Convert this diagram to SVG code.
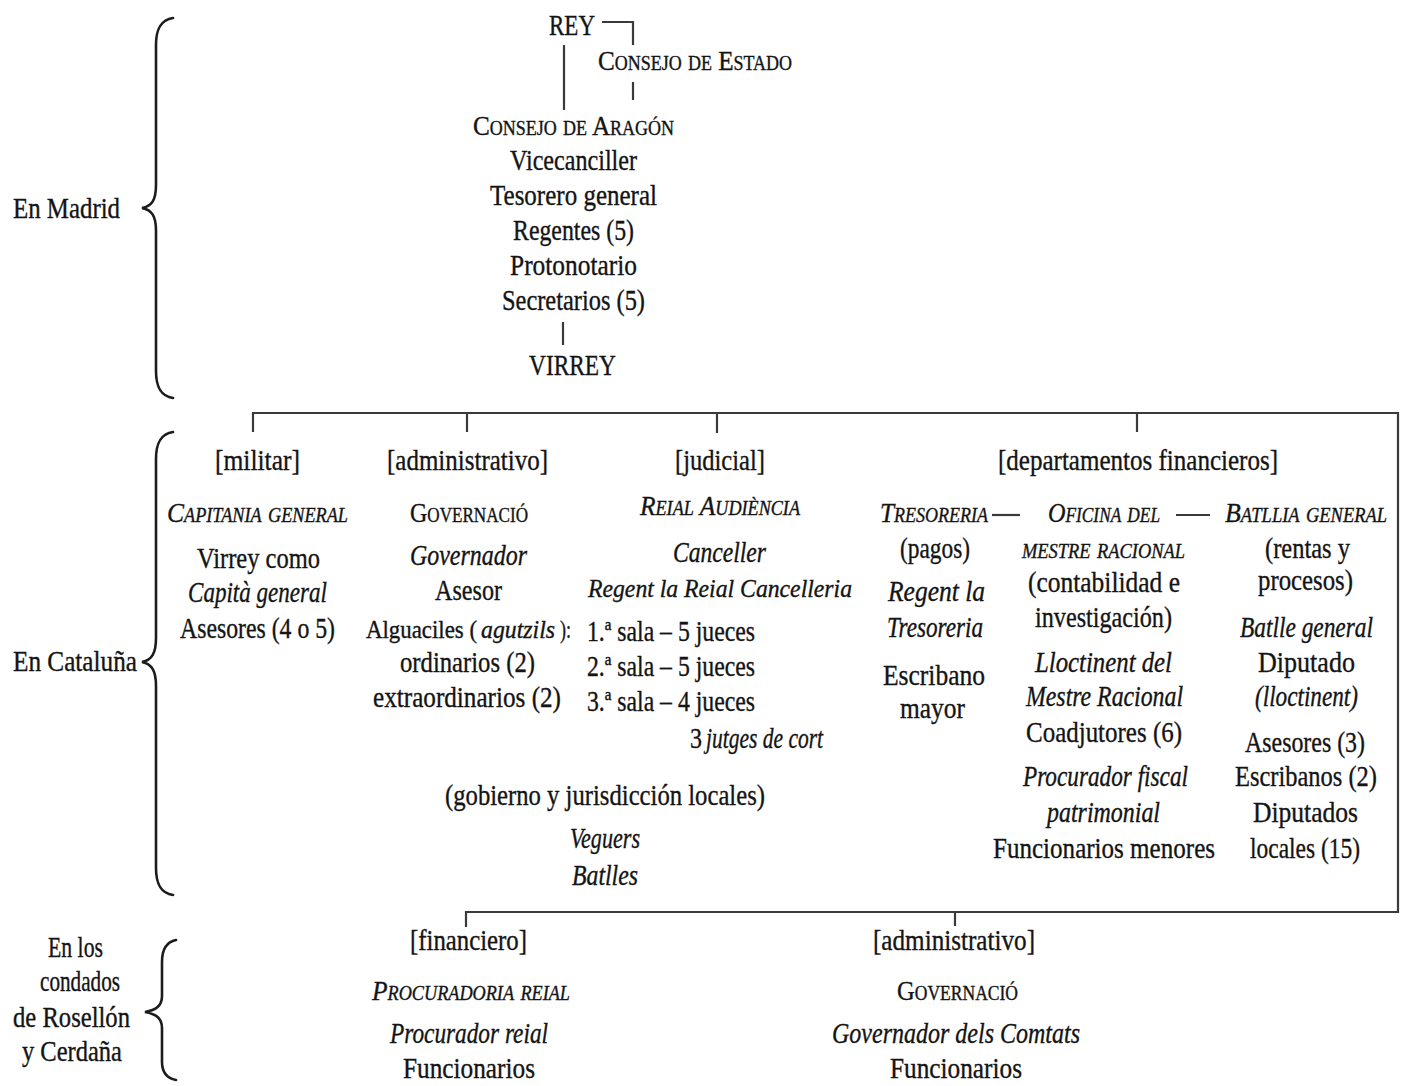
<svg xmlns="http://www.w3.org/2000/svg" width="1406" height="1086" viewBox="0 0 1406 1086">
<style>
.t{font-family:"Liberation Serif","Times New Roman",serif;font-size:29px;fill:#141414;stroke:#141414;stroke-width:0.35}
.i{font-style:italic}
.sc{font-variant:small-caps;font-size:28px}
.n{font-size:26px}
.m{font-size:25px}
.ln{stroke:#3a3a3a;stroke-width:2.2;fill:none}
.br{stroke:#1c1c1c;stroke-width:2.6;fill:none;stroke-linecap:round}
</style>
<rect width="1406" height="1086" fill="#ffffff"/>

<g id="connectors">
<polyline class="ln" points="602,22 633,22 633,45"/>
<line class="ln" x1="633" y1="82" x2="633" y2="100"/>
<line class="ln" x1="564" y1="45" x2="564" y2="110"/>
<line class="ln" x1="563" y1="322" x2="563" y2="345"/>
<path class="ln" d="M253,432 L253,413 L1398,413 L1398,912 L466,912 L466,927"/>
<line class="ln" x1="467" y1="413" x2="467" y2="432"/>
<line class="ln" x1="717" y1="413" x2="717" y2="433"/>
<line class="ln" x1="1137" y1="413" x2="1137" y2="432"/>
<line class="ln" x1="955" y1="912" x2="955" y2="926"/>
<line class="ln" x1="992" y1="515" x2="1020" y2="515"/>
<line class="ln" x1="1176" y1="515" x2="1210" y2="515"/>
</g>

<g id="braces">
<path class="br" d="M173,18 C160,20 156,30 156,45 L156,185 C156,200 152,206 142,208 C152,210 156,216 156,231 L156,371 C156,386 160,396 173,398"/>
<path class="br" d="M173,432 C160,434 156,444 156,459 L156,638 C156,653 152,660 142,662 C152,664 156,671 156,686 L156,868 C156,883 160,893 173,895"/>
<path class="br" d="M176,940 C166,942 162,950 162,962 L162,996 C162,1006 156,1010 145,1012 C156,1014 162,1018 162,1028 L162,1062 C162,1072 166,1078 176,1080"/>
</g>

<g id="labels">
<text class="t" x="13" y="218" textLength="107" lengthAdjust="spacingAndGlyphs">En Madrid</text>
<text class="t" x="13" y="671" textLength="124" lengthAdjust="spacingAndGlyphs">En Cataluña</text>
<text class="t" x="48" y="957" textLength="55" lengthAdjust="spacingAndGlyphs">En los</text>
<text class="t" x="40" y="991" textLength="80" lengthAdjust="spacingAndGlyphs">condados</text>
<text class="t" x="13" y="1027" textLength="117" lengthAdjust="spacingAndGlyphs">de Rosellón</text>
<text class="t" x="22" y="1061" textLength="100" lengthAdjust="spacingAndGlyphs">y Cerdaña</text>
</g>

<g id="rey"><text class="t" x="549" y="35" textLength="46" lengthAdjust="spacingAndGlyphs">REY</text></g>
<g id="consejo-estado"><text class="t sc" x="598" y="70" textLength="194" lengthAdjust="spacingAndGlyphs">Consejo de Estado</text></g>
<g id="consejo-aragon">
<text class="t sc" x="473" y="135" textLength="201" lengthAdjust="spacingAndGlyphs">Consejo de Aragón</text>
<text class="t" x="510" y="170" textLength="127" lengthAdjust="spacingAndGlyphs">Vicecanciller</text>
<text class="t" x="490" y="205" textLength="167" lengthAdjust="spacingAndGlyphs">Tesorero general</text>
<text class="t" x="513" y="240" textLength="121" lengthAdjust="spacingAndGlyphs">Regentes (5)</text>
<text class="t" x="510" y="275" textLength="127" lengthAdjust="spacingAndGlyphs">Protonotario</text>
<text class="t" x="502" y="310" textLength="143" lengthAdjust="spacingAndGlyphs">Secretarios (5)</text>
</g>
<g id="virrey"><text class="t" x="529" y="375" textLength="87" lengthAdjust="spacingAndGlyphs">VIRREY</text></g>

<g id="militar">
<text class="t" x="215" y="470" textLength="85" lengthAdjust="spacingAndGlyphs">[militar]</text>
<text class="t sc i" x="167" y="522" textLength="181" lengthAdjust="spacingAndGlyphs">Capitania general</text>
<text class="t" x="197" y="568" textLength="123" lengthAdjust="spacingAndGlyphs">Virrey como</text>
<text class="t i" x="188" y="602" textLength="139" lengthAdjust="spacingAndGlyphs">Capità general</text>
<text class="t" x="180" y="638" textLength="155" lengthAdjust="spacingAndGlyphs">Asesores (4 o 5)</text>
</g>

<g id="administrativo">
<text class="t" x="387" y="470" textLength="161" lengthAdjust="spacingAndGlyphs">[administrativo]</text>
<text class="t sc" x="410" y="522" textLength="118" lengthAdjust="spacingAndGlyphs">Governació</text>
<text class="t i" x="410" y="565" textLength="117" lengthAdjust="spacingAndGlyphs">Governador</text>
<text class="t" x="435" y="600" textLength="67" lengthAdjust="spacingAndGlyphs">Asesor</text>
<text class="t m" x="366" y="638" textLength="111" lengthAdjust="spacingAndGlyphs">Alguaciles (</text>
<text class="t i m" x="481" y="638" textLength="74" lengthAdjust="spacingAndGlyphs">agutzils</text>
<text class="t m" x="560" y="638" textLength="11" lengthAdjust="spacingAndGlyphs">):</text>
<text class="t" x="400" y="672" textLength="135" lengthAdjust="spacingAndGlyphs">ordinarios (2)</text>
<text class="t" x="373" y="707" textLength="188" lengthAdjust="spacingAndGlyphs">extraordinarios (2)</text>
</g>

<g id="judicial">
<text class="t" x="675" y="470" textLength="90" lengthAdjust="spacingAndGlyphs">[judicial]</text>
<text class="t sc i" x="640" y="515" textLength="160" lengthAdjust="spacingAndGlyphs">Reial Audiència</text>
<text class="t i" x="673" y="562" textLength="93" lengthAdjust="spacingAndGlyphs">Canceller</text>
<text class="t i n" x="588" y="597" textLength="264" lengthAdjust="spacingAndGlyphs">Regent la Reial Cancelleria</text>
<text class="t" x="587" y="641" textLength="168" lengthAdjust="spacingAndGlyphs">1.ª sala – 5 jueces</text>
<text class="t" x="587" y="676" textLength="168" lengthAdjust="spacingAndGlyphs">2.ª sala – 5 jueces</text>
<text class="t" x="587" y="711" textLength="168" lengthAdjust="spacingAndGlyphs">3.ª sala – 4 jueces</text>
<text class="t" x="690" y="748" textLength="12" lengthAdjust="spacingAndGlyphs">3</text>
<text class="t i" x="706" y="748" textLength="117" lengthAdjust="spacingAndGlyphs">jutges de cort</text>
</g>

<g id="local">
<text class="t" x="445" y="805" textLength="320" lengthAdjust="spacingAndGlyphs">(gobierno y jurisdicción locales)</text>
<text class="t i" x="570" y="848" textLength="70" lengthAdjust="spacingAndGlyphs">Veguers</text>
<text class="t i" x="572" y="885" textLength="66" lengthAdjust="spacingAndGlyphs">Batlles</text>
</g>

<g id="financieros">
<text class="t" x="998" y="470" textLength="280" lengthAdjust="spacingAndGlyphs">[departamentos financieros]</text>
</g>

<g id="tresoreria">
<text class="t sc i" x="880" y="522" textLength="108" lengthAdjust="spacingAndGlyphs">Tresoreria</text>
<text class="t" x="900" y="558" textLength="70" lengthAdjust="spacingAndGlyphs">(pagos)</text>
<text class="t i" x="888" y="601" textLength="97" lengthAdjust="spacingAndGlyphs">Regent la</text>
<text class="t i" x="887" y="637" textLength="96" lengthAdjust="spacingAndGlyphs">Tresoreria</text>
<text class="t" x="883" y="685" textLength="102" lengthAdjust="spacingAndGlyphs">Escribano</text>
<text class="t" x="900" y="718" textLength="65" lengthAdjust="spacingAndGlyphs">mayor</text>
</g>

<g id="mestre-racional">
<text class="t sc i" x="1048" y="522" textLength="112" lengthAdjust="spacingAndGlyphs">Oficina del</text>
<text class="t sc i" x="1022" y="558" textLength="163" lengthAdjust="spacingAndGlyphs">mestre racional</text>
<text class="t" x="1028" y="592" textLength="152" lengthAdjust="spacingAndGlyphs">(contabilidad e</text>
<text class="t" x="1035" y="627" textLength="137" lengthAdjust="spacingAndGlyphs">investigación)</text>
<text class="t i" x="1035" y="672" textLength="137" lengthAdjust="spacingAndGlyphs">Lloctinent del</text>
<text class="t i" x="1026" y="706" textLength="157" lengthAdjust="spacingAndGlyphs">Mestre Racional</text>
<text class="t" x="1026" y="742" textLength="156" lengthAdjust="spacingAndGlyphs">Coadjutores (6)</text>
<text class="t i" x="1023" y="786" textLength="165" lengthAdjust="spacingAndGlyphs">Procurador fiscal</text>
<text class="t i" x="1047" y="822" textLength="113" lengthAdjust="spacingAndGlyphs">patrimonial</text>
<text class="t" x="993" y="858" textLength="222" lengthAdjust="spacingAndGlyphs">Funcionarios menores</text>
</g>

<g id="batllia">
<text class="t sc i" x="1225" y="522" textLength="162" lengthAdjust="spacingAndGlyphs">Batllia general</text>
<text class="t" x="1265" y="558" textLength="85" lengthAdjust="spacingAndGlyphs">(rentas y</text>
<text class="t" x="1258" y="590" textLength="95" lengthAdjust="spacingAndGlyphs">procesos)</text>
<text class="t i" x="1240" y="637" textLength="133" lengthAdjust="spacingAndGlyphs">Batlle general</text>
<text class="t" x="1258" y="672" textLength="97" lengthAdjust="spacingAndGlyphs">Diputado</text>
<text class="t i" x="1255" y="706" textLength="103" lengthAdjust="spacingAndGlyphs">(lloctinent)</text>
<text class="t" x="1245" y="752" textLength="120" lengthAdjust="spacingAndGlyphs">Asesores (3)</text>
<text class="t" x="1235" y="786" textLength="142" lengthAdjust="spacingAndGlyphs">Escribanos (2)</text>
<text class="t" x="1253" y="822" textLength="105" lengthAdjust="spacingAndGlyphs">Diputados</text>
<text class="t" x="1250" y="858" textLength="110" lengthAdjust="spacingAndGlyphs">locales (15)</text>
</g>

<g id="rosellon-financiero">
<text class="t" x="410" y="950" textLength="117" lengthAdjust="spacingAndGlyphs">[financiero]</text>
<text class="t sc i" x="372" y="1000" textLength="198" lengthAdjust="spacingAndGlyphs">Procuradoria reial</text>
<text class="t i" x="390" y="1043" textLength="158" lengthAdjust="spacingAndGlyphs">Procurador reial</text>
<text class="t" x="403" y="1078" textLength="132" lengthAdjust="spacingAndGlyphs">Funcionarios</text>
</g>

<g id="rosellon-administrativo">
<text class="t" x="873" y="950" textLength="162" lengthAdjust="spacingAndGlyphs">[administrativo]</text>
<text class="t sc" x="897" y="1000" textLength="121" lengthAdjust="spacingAndGlyphs">Governació</text>
<text class="t i" x="832" y="1043" textLength="248" lengthAdjust="spacingAndGlyphs">Governador dels Comtats</text>
<text class="t" x="890" y="1078" textLength="132" lengthAdjust="spacingAndGlyphs">Funcionarios</text>
</g>
</svg>
